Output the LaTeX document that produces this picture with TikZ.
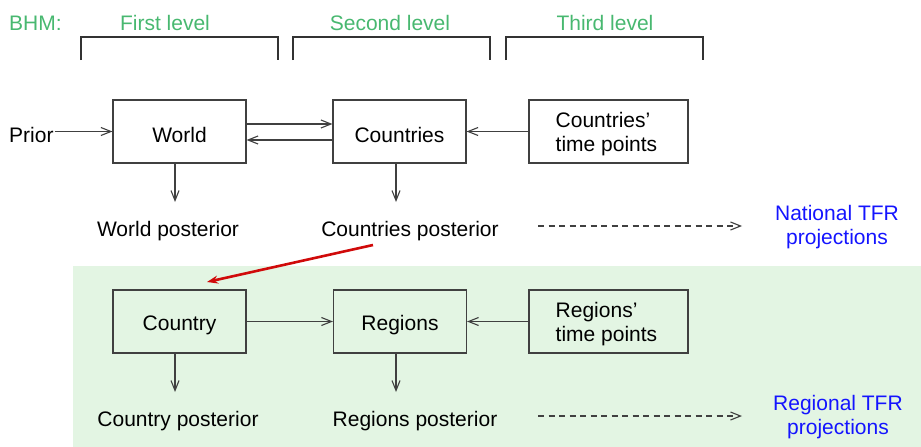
\documentclass[tikz,border=0pt]{standalone}
\usepackage{fontspec}
\setmainfont{Liberation Sans}
\usetikzlibrary{arrows.meta}
\definecolor{lvlgreen}{RGB}{72,184,112}
\definecolor{bandgreen}{RGB}{227,245,227}
\definecolor{lineg}{RGB}{64,64,64}
\definecolor{tfrblue}{RGB}{20,20,255}
\definecolor{redarr}{RGB}{208,10,10}
\begin{document}
\begin{tikzpicture}[x=1pt,y=-1pt,
  every node/.style={font=\fontsize{21}{24}\selectfont, inner sep=1pt},
  every label/.style={font=\fontsize{21}{24}\selectfont, inner sep=1pt, align=left},
  box/.style={draw=lineg, line width=1.2pt, minimum width=133pt, minimum height=63pt},
  wide/.style={box, minimum width=159pt},
  conn/.style={draw=lineg, line width=1.1pt, -{Straight Barb[length=10pt,width=8pt]}},
  dconn/.style={conn, dash pattern=on 6pt off 4.5pt},
  lvl/.style={text=lvlgreen},
  tfr/.style={text=tfrblue, align=center},
  brk/.style={draw=black!80, line width=1.6pt}]
\useasboundingbox (0,0) rectangle (921,447);
% band
\fill[bandgreen] (73,266) rectangle (921,447);
% headers
\node[lvl, anchor=west] (bhm) at (8,23) {BHM:};
\node[lvl] (l1) at (165,23) {First level};
\node[lvl] (l2) at (390,23) {Second level};
\node[lvl] (l3) at (605,23) {Third level};
\draw[brk] (81,60) -- (81,37) -- (278,37) -- (278,60);
\draw[brk] (293,60) -- (293,37) -- (490,37) -- (490,60);
\draw[brk] (506,60) -- (506,37) -- (703,37) -- (703,60);
% upper row
\node[anchor=west] (prior) at (8,135) {Prior};
\node[box, label={[yshift=-3.5pt]center:World}] (world) at (179.5,131.5) {};
\node[box, label={[yshift=-3.5pt]center:Countries}] (countries) at (399.5,131.5) {};
\node[wide, label={[yshift=-3pt,xshift=-2pt]center:Countries'\\time points}] (ctp) at (608.5,131.5) {};
\node (wpost) at (168,231) {World posterior};
\node (cpost) at (410,231) {Countries posterior};
\node[tfr] (ntfr) at (837,227) {National TFR\\projections};
\coordinate (wend) at (175,202);
\coordinate (cend) at (396,202);
\coordinate (d1s) at (538,226);
\coordinate (d1e) at (742,226);
\draw[conn] (prior.east |- world.west) -- (world.west);
\draw[conn] ([yshift=7.5pt]world.east) -- ([yshift=7.5pt]countries.west);
\draw[conn] ([yshift=-8.5pt]countries.west) -- ([yshift=-8.5pt]world.east);
\draw[conn] (ctp.west) -- (countries.east);
\draw[conn] (wend |- world.south) -- (wend);
\draw[conn] (cend |- countries.south) -- (cend);
\draw[dconn] (d1s) -- (d1e);
% lower row
\node[box, label={[yshift=-3.5pt]center:Country}] (country) at (179.5,321.5) {};
\node[box, label={[yshift=-3.5pt]center:Regions}] (regions) at (400,321.5) {};
\node[wide, label={[yshift=-3pt,xshift=-2pt]center:Regions'\\time points}] (rtp) at (608.5,321.5) {};
\node (cypost) at (178,421) {Country posterior};
\node (rpost) at (415,421) {Regions posterior};
\node[tfr] (rtfr) at (838,417) {Regional TFR\\projections};
\coordinate (cyend) at (175,392);
\coordinate (rend) at (396,392);
\coordinate (d2s) at (538,416);
\coordinate (d2e) at (742,416);
\draw[conn] (country.east) -- (regions.west);
\draw[conn] (rtp.west) -- (regions.east);
\draw[conn] (cyend |- country.south) -- (cyend);
\draw[conn] (rend |- regions.south) -- (rend);
\draw[dconn] (d2s) -- (d2e);
% red arrow
\coordinate (rs) at (373,245);
\coordinate (re) at (207,282);
\draw[redarr, line width=2.6pt, -{Stealth[length=11pt,width=8pt]}] (rs) -- (re);
\end{tikzpicture}
\end{document}
